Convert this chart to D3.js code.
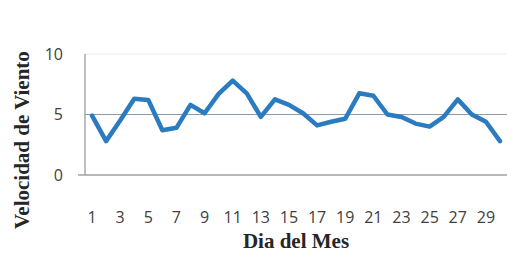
<!DOCTYPE html>
<html>
<head>
<meta charset="utf-8">
<script src="https://cdn.jsdelivr.net/npm/d3@7"></script>
<style>
  body { margin: 0; background: #fff; }
  svg { display: block; }
</style>
</head>
<body>
<svg width="526" height="258"></svg>
<script>
// dia del mes y velocidad de viento
let days = d3.range(1, 31);
let wind = [4.9, 2.8, 4.5, 6.3, 6.2, 3.7, 3.9, 5.8, 5.1, 6.7,
            7.8, 6.75, 4.8, 6.25, 5.8, 5.1, 4.1, 4.4, 4.65, 6.75,
            6.55, 5.0, 4.8, 4.25, 4.0, 4.8, 6.25, 5.0, 4.4, 2.8];
let yTicks = [0, 5, 10];
let xTickLabels = days.filter(d => d % 2 == 1);

let svg = d3.select("svg");
let plotLeft = 85, plotRight = 507, plotTop = 54, plotBottom = 175;

let x = d3.scaleBand().domain(days).range([plotLeft, plotRight]);
let y = d3.scaleLinear().domain([0, 10]).range([plotBottom, plotTop]);

// lineas de cuadricula
svg.append("g").selectAll("line")
    .data(yTicks.filter(t => t > 0))
    .join("line")
    .attr("x1", plotLeft).attr("x2", plotRight)
    .attr("y1", d => y(d)).attr("y2", d => y(d))
    .style("stroke", d => d == 5 ? "#8d9cad" : "#ececec")
    .style("stroke-width", 1.2);

// ejes
svg.append("line")
    .attr("x1", plotLeft).attr("x2", plotLeft)
    .attr("y1", plotTop).attr("y2", plotBottom)
    .style("stroke", "#a8a8a8").style("stroke-width", 1.5);
svg.append("line")
    .attr("x1", plotLeft - 7).attr("x2", plotRight)
    .attr("y1", plotBottom).attr("y2", plotBottom)
    .style("stroke", "#a0a0a0").style("stroke-width", 1.5);

// etiquetas del eje y
svg.append("g").selectAll("text")
    .data(yTicks)
    .join("text")
    .attr("x", 63)
    .attr("y", d => y(d))
    .attr("dy", "0.35em")
    .attr("text-anchor", "end")
    .style("font-family", "Open Sans")
    .style("font-size", "16px")
    .style("fill", "#404040")
    .text(d => d);

// etiquetas del eje x
svg.append("g").selectAll("text")
    .data(xTickLabels)
    .join("text")
    .attr("x", d => x(d) + x.bandwidth() / 2)
    .attr("y", 217)
    .attr("dy", "0.35em")
    .attr("text-anchor", "middle")
    .style("font-family", "Open Sans")
    .style("font-size", "16px")
    .style("fill", "#404040")
    .text(d => d);

// la serie
let line = d3.line()
    .x((d, i) => x(days[i]) + x.bandwidth() / 2)
    .y(d => y(d));

svg.append("path")
    .datum(wind)
    .attr("d", line)
    .style("fill", "none")
    .style("stroke", "#2b7bc0")
    .style("stroke-width", 4.5)
    .style("stroke-linejoin", "round")
    .style("stroke-linecap", "round");

// titulos
svg.append("text")
    .attr("x", 296).attr("y", 248)
    .attr("text-anchor", "middle")
    .style("font-family", "Liberation Serif")
    .style("font-weight", "bold")
    .style("font-size", "21px")
    .style("fill", "#262626")
    .text("Dia del Mes");

svg.append("text")
    .attr("transform", "translate(29,140) rotate(-90)")
    .attr("text-anchor", "middle")
    .style("font-family", "Liberation Serif")
    .style("font-weight", "bold")
    .style("font-size", "21px")
    .style("fill", "#262626")
    .text("Velocidad de Viento");
</script>
</body>
</html>
